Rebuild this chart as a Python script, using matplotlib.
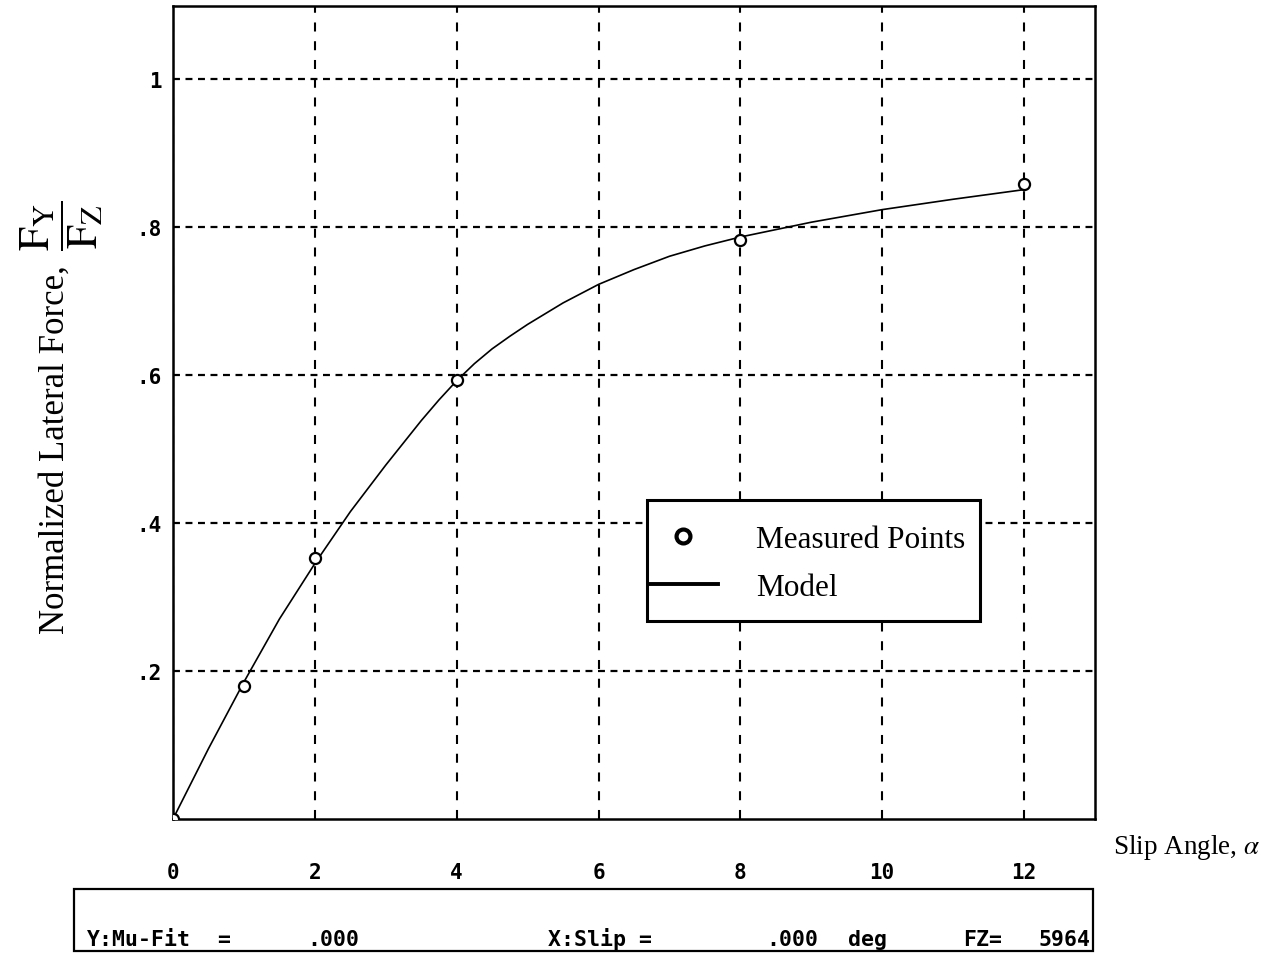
import numpy as np
import matplotlib
matplotlib.use("Agg")
import matplotlib.pyplot as plt
from matplotlib.patches import Rectangle

# measured lateral force points and fitted model curve
slip_meas = [0, 1, 2, 4, 8, 12]
mu_meas = [0.0, 0.18, 0.352, 0.593, 0.782, 0.857]

slip_model = [0, 0.5, 1, 1.5, 2, 2.5, 3, 3.5, 3.75, 4, 4.25, 4.5, 4.75, 5, 5.5, 6, 6.5,
              7, 7.5, 8, 9, 10, 11, 12]
mu_model = [0.0, 0.095, 0.185, 0.27, 0.345, 0.415, 0.478, 0.538, 0.566, 0.592, 0.615,
            0.635, 0.652, 0.668, 0.697, 0.722, 0.742, 0.76, 0.774, 0.786, 0.806, 0.823,
            0.837, 0.850]

x_ticks = [0, 2, 4, 6, 8, 10, 12]
x_ticklabels = ["0", "2", "4", "6", "8", "10", "12"]
y_ticks = [0.2, 0.4, 0.6, 0.8, 1.0]
y_ticklabels = [".2", ".4", ".6", ".8", "1"]

status_fields = ["Y:Mu-Fit", "=", ".000", "X:Slip =", ".000", "deg", "FZ=", "5964"]
status_xpos = [87, 217, 307, 548, 766, 848, 963, 1039]

W, H = 1284, 954
plt.rcParams['lines.scale_dashes'] = False
plt.rcParams['mathtext.fontset'] = 'stix'


def fx(x):
    return x / W


def fy(y):
    return 1 - y / H


fig = plt.figure(figsize=(W / 100, H / 100), dpi=100)
ax = fig.add_axes([fx(173), fy(820), (1095 - 173) / W, (820 - 7) / H])

ax.plot(slip_model, mu_model, color='black', lw=1.2, label='Model', zorder=3)
ax.plot(slip_meas, mu_meas, linestyle='none', marker='o', ms=8, mfc='white', mec='black',
        mew=1.6, label='Measured Points', zorder=4)

ax.set_xlim(0, 13)
ax.set_ylim(0, 1.098)

mono = dict(family='DejaVu Sans Mono', weight='bold')
ax.set_xticks(x_ticks)
ax.set_xticklabels(x_ticklabels, fontsize=15, **mono)
ax.set_yticks(y_ticks)
ax.set_yticklabels(y_ticklabels, fontsize=15, **mono)
ax.tick_params(axis='x', length=0, pad=31)
ax.tick_params(axis='y', length=0, pad=8)

ax.xaxis.grid(True, color='black', lw=1.5, linestyle=(0, (6.5, 7)))
ax.yaxis.grid(True, color='black', lw=1.6, linestyle=(0, (5, 4)))
for s in ax.spines.values():
    s.set_linewidth(1.8)

# legend, frame drawn separately so the line handle sits on the border
handles, labels = ax.get_legend_handles_labels()
leg = ax.legend(handles[::-1], labels[::-1], loc='upper left',
                bbox_to_anchor=(fx(648), fy(526)), bbox_transform=fig.transFigure,
                frameon=False, borderpad=0, borderaxespad=0, handlelength=2.25,
                handletextpad=1.2, labelspacing=0.62,
                prop=dict(family='Liberation Serif', size=22.5))
leg.set_zorder(6)
pts_handle, line_handle = leg.legend_handles
pts_handle.set_markersize(10)
pts_handle.set_markeredgewidth(3)
line_handle.set_linewidth(2.8)
ax.add_patch(Rectangle((fx(647), fy(622)), (980 - 647) / W, (622 - 501) / H,
                       transform=fig.transFigure, fc='white', ec='black', lw=2.2,
                       zorder=5, clip_on=False))

fig.text(fx(1187), fy(848), r'Slip Angle, $\alpha$', fontsize=19.5, family='Liberation Serif',
         ha='center', va='center')
fig.text(fx(55), fy(450), 'Normalized Lateral Force,', fontsize=25,
         family='Liberation Serif', rotation=90, ha='center', va='center')
fig.text(fx(62), fy(226), r'$\dfrac{\mathrm{F}_{\mathrm{Y}}}{\mathrm{F}_{\mathrm{Z}}}$',
         fontsize=31, rotation=90, ha='center', va='center')

# status bar under the axis
fig.add_artist(Rectangle((fx(74), fy(952)), (1093 - 74) / W, (952 - 890) / H,
                         transform=fig.transFigure, fill=False, ec='black', lw=1.6))
for txt, xp in zip(status_fields, status_xpos):
    fig.text(fx(xp), fy(946), txt, fontsize=15.5, ha='left', va='baseline', **mono)

fig.savefig('out.png', dpi=100)
